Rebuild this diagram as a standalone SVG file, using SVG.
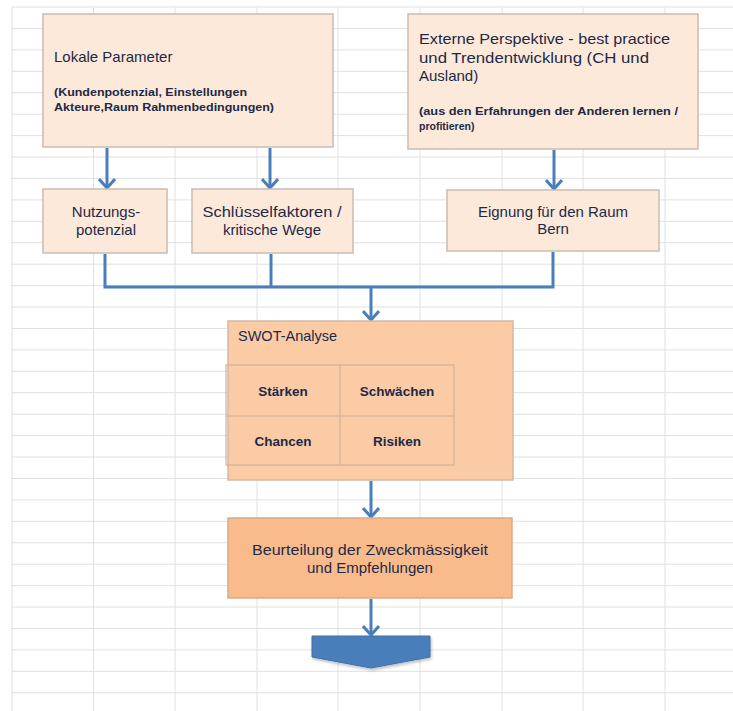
<svg xmlns="http://www.w3.org/2000/svg" width="733" height="711" viewBox="0 0 733 711">
<defs>
<style>
.grid line{stroke:#e0e0e0;stroke-width:1}
.box{fill:#fde9d9;stroke:#c9bcb3;stroke-width:1.5}
.swot{fill:#fbcba5;stroke:#d2b8a6;stroke-width:1.5}
.cell{fill:none;stroke:#cfb29c;stroke-width:1.2}
.beur{fill:#f9bb8c;stroke:#d9aa88;stroke-width:1.5}
.t{font-family:"Liberation Sans",Arial,sans-serif;fill:#1c2a48}
.big{font-size:15px}
.small{font-size:10.5px;font-weight:bold}
.cellt{font-size:13.5px;font-weight:bold}
.c{text-anchor:middle}
.conn{fill:none;stroke:#4a7ebb;stroke-width:3}
</style>
<marker id="arr" viewBox="0 0 12 18" refX="10" refY="9" markerWidth="12" markerHeight="18" markerUnits="userSpaceOnUse" orient="auto">
<path d="M1,1 L10,9 L1,17" fill="none" stroke="#4a7ebb" stroke-width="3" stroke-linejoin="miter"/>
</marker>
<filter id="sh" x="-10%" y="-10%" width="130%" height="140%">
<feDropShadow dx="1" dy="2" stdDeviation="1.5" flood-color="#000" flood-opacity="0.25"/>
</filter>
</defs>
<rect width="733" height="711" fill="#ffffff"/>
<g class="grid">
<line x1="12" y1="7" x2="12" y2="711"/>
<line x1="93.5" y1="7" x2="93.5" y2="711"/>
<line x1="175" y1="7" x2="175" y2="711"/>
<line x1="257" y1="7" x2="257" y2="711"/>
<line x1="338" y1="7" x2="338" y2="711"/>
<line x1="420" y1="7" x2="420" y2="711"/>
<line x1="502" y1="7" x2="502" y2="711"/>
<line x1="583" y1="7" x2="583" y2="711"/>
<line x1="665" y1="7" x2="665" y2="711"/>
<line x1="12" y1="7" x2="733" y2="7"/>
<line x1="12" y1="28.4" x2="733" y2="28.4"/>
<line x1="12" y1="49.9" x2="733" y2="49.9"/>
<line x1="12" y1="71.3" x2="733" y2="71.3"/>
<line x1="12" y1="92.7" x2="733" y2="92.7"/>
<line x1="12" y1="114.2" x2="733" y2="114.2"/>
<line x1="12" y1="135.6" x2="733" y2="135.6"/>
<line x1="12" y1="157" x2="733" y2="157"/>
<line x1="12" y1="178.4" x2="733" y2="178.4"/>
<line x1="12" y1="199.9" x2="733" y2="199.9"/>
<line x1="12" y1="221.3" x2="733" y2="221.3"/>
<line x1="12" y1="242.7" x2="733" y2="242.7"/>
<line x1="12" y1="264.2" x2="733" y2="264.2"/>
<line x1="12" y1="285.6" x2="733" y2="285.6"/>
<line x1="12" y1="307" x2="733" y2="307"/>
<line x1="12" y1="328.5" x2="733" y2="328.5"/>
<line x1="12" y1="349.9" x2="733" y2="349.9"/>
<line x1="12" y1="371.3" x2="733" y2="371.3"/>
<line x1="12" y1="392.7" x2="733" y2="392.7"/>
<line x1="12" y1="414.2" x2="733" y2="414.2"/>
<line x1="12" y1="435.6" x2="733" y2="435.6"/>
<line x1="12" y1="457" x2="733" y2="457"/>
<line x1="12" y1="478.5" x2="733" y2="478.5"/>
<line x1="12" y1="499.9" x2="733" y2="499.9"/>
<line x1="12" y1="521.3" x2="733" y2="521.3"/>
<line x1="12" y1="542.8" x2="733" y2="542.8"/>
<line x1="12" y1="564.2" x2="733" y2="564.2"/>
<line x1="12" y1="585.6" x2="733" y2="585.6"/>
<line x1="12" y1="607" x2="733" y2="607"/>
<line x1="12" y1="628.5" x2="733" y2="628.5"/>
<line x1="12" y1="649.9" x2="733" y2="649.9"/>
<line x1="12" y1="671.3" x2="733" y2="671.3"/>
<line x1="12" y1="692.8" x2="733" y2="692.8"/>
</g>
<g id="connectors">
<line class="conn" x1="107" y1="148" x2="107" y2="188" marker-end="url(#arr)"/>
<line class="conn" x1="270" y1="148" x2="270" y2="188" marker-end="url(#arr)"/>
<line class="conn" x1="554" y1="150" x2="554" y2="189" marker-end="url(#arr)"/>
<polyline class="conn" points="105,254 105,287 553,287 553,252"/>
<line class="conn" x1="271" y1="254" x2="271" y2="287" stroke-width="4"/>
<line class="conn" x1="371" y1="287" x2="371" y2="320" marker-end="url(#arr)"/>
<line class="conn" x1="371" y1="481" x2="371" y2="517" marker-end="url(#arr)"/>
<line class="conn" x1="371" y1="599" x2="371" y2="635" marker-end="url(#arr)"/>
</g>
<g id="lokale">
<rect class="box" x="43" y="14" width="290" height="133"/>
<text class="t big" x="54" y="62">Lokale Parameter</text>
<text class="t small" x="54" y="96" textLength="193" lengthAdjust="spacingAndGlyphs">(Kundenpotenzial,  Einstellungen</text>
<text class="t small" x="54" y="111" textLength="220" lengthAdjust="spacingAndGlyphs">Akteure,Raum  Rahmenbedingungen)</text>
</g>
<g id="externe">
<rect class="box" x="408" y="14" width="290" height="135"/>
<text class="t big" x="419" y="44" textLength="251" lengthAdjust="spacingAndGlyphs">Externe  Perspektive - best practice</text>
<text class="t big" x="419" y="62.5" textLength="230" lengthAdjust="spacingAndGlyphs">und Trendentwicklung  (CH und</text>
<text class="t big" x="419" y="81">Ausland)</text>
<text class="t small" x="419" y="115" textLength="259" lengthAdjust="spacingAndGlyphs">(aus den Erfahrungen  der Anderen lernen /</text>
<text class="t small" x="419" y="130">profitieren)</text>
</g>
<g id="nutzung">
<rect class="box" x="43" y="189" width="124" height="64"/>
<text class="t big c" x="106" y="217">Nutzungs-</text>
<text class="t big c" x="106" y="235">potenzial</text>
</g>
<g id="schluessel">
<rect class="box" x="192" y="189" width="161" height="64"/>
<text class="t big c" x="272" y="217" textLength="139" lengthAdjust="spacingAndGlyphs">Schlüsselfaktoren  /</text>
<text class="t big c" x="272" y="235">kritische Wege</text>
</g>
<g id="eignung">
<rect class="box" x="447" y="190" width="212" height="61"/>
<text class="t big c" x="553" y="217">Eignung für den Raum</text>
<text class="t big c" x="553" y="234">Bern</text>
</g>
<g id="swot">
<rect class="swot" x="228" y="321" width="285" height="159"/>
<text class="t" x="238" y="341" font-size="14.5">SWOT-Analyse</text>
<rect class="cell" x="226" y="365" width="228" height="100"/>
<line class="cell" x1="226" y1="416" x2="454" y2="416"/>
<line class="cell" x1="340" y1="365" x2="340" y2="465"/>
<text class="t cellt c" x="283" y="396">Stärken</text>
<text class="t cellt c" x="397" y="396">Schwächen</text>
<text class="t cellt c" x="283" y="446">Chancen</text>
<text class="t cellt c" x="397" y="446">Risiken</text>
</g>
<g id="beurteilung">
<rect class="beur" x="228" y="518" width="284" height="80"/>
<text class="t big c" x="370" y="555" textLength="236" lengthAdjust="spacingAndGlyphs">Beurteilung der Zweckmässigkeit</text>
<text class="t big c" x="370" y="573">und Empfehlungen</text>
</g>
<g id="ergebnis">
<polygon points="312,636 430,636 430,657 371,668 312,657" fill="#4a7ebb" stroke="#3f6fa8" stroke-width="1" filter="url(#sh)"/>
</g>
</svg>
